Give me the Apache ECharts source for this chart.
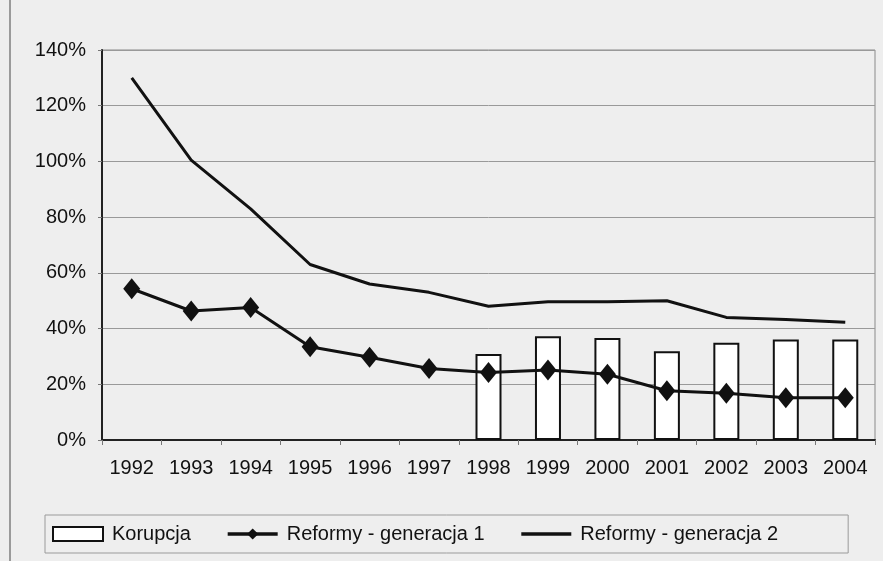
<!DOCTYPE html>
<html>
<head>
    <meta charset="UTF-8">
    <title>Korupcja i reformy</title>
    <script src="https://cdn.jsdelivr.net/npm/echarts/dist/echarts.min.js"></script>
    <style>
        body { margin: 0; background: #eeeeee; }
    </style>
</head>
<body>
    <div id="chart" style="width: 883px;height:561px;"></div>
    <script type="text/javascript">
        var myChart = echarts.init(document.getElementById('chart'));

        // data (percent)
        var years = ['1992', '1993', '1994', '1995', '1996', '1997', '1998', '1999', '2000', '2001', '2002', '2003', '2004'];
        var korupcja = [null, null, null, null, null, null, 30.9, 37.2, 36.6, 31.9, 34.9, 36.1, 36.1];
        var reformyGen1 = [54.3, 46.3, 47.6, 33.5, 29.7, 25.7, 24.2, 25.1, 23.6, 17.7, 16.8, 15.2, 15.2];
        var reformyGen2 = [130, 100.5, 83, 63, 56, 53, 48, 49.6, 49.6, 50, 44, 43.3, 42.3];

        var font = 'Liberation Sans';

        var option = {
            backgroundColor: '#eeeeee',
            textStyle: { fontFamily: font },
            grid: {
                left: 102,
                right: 8,
                top: 50,
                bottom: 121,
                show: true,
                borderColor: '#8a8a8a',
                borderWidth: 1
            },
            legend: {
                left: 45,
                top: 515,
                padding: [9, 70, 9, 7],
                borderColor: '#9a9a9a',
                borderWidth: 1,
                itemWidth: 50,
                itemHeight: 14,
                itemGap: 35,
                textStyle: { fontSize: 20, color: '#111', fontFamily: font, padding: [0, 0, 0, 4] },
                data: [
                    { name: 'Korupcja', icon: 'rect', itemStyle: { borderWidth: 2 } },
                    { name: 'Reformy - generacja 1', lineStyle: { width: 3.5 } },
                    { name: 'Reformy - generacja 2', lineStyle: { width: 3.5 }, itemStyle: { color: 'transparent', borderWidth: 0 } }
                ]
            },
            graphic: [
                {
                    type: 'line',
                    shape: { x1: 10, y1: 0, x2: 10, y2: 561 },
                    style: { stroke: '#9a9a9a', lineWidth: 2 }
                }
            ],
            xAxis: {
                type: 'category',
                data: years,
                boundaryGap: true,
                axisLine: { lineStyle: { color: '#222', width: 2 } },
                axisTick: { show: true, length: 5, lineStyle: { color: '#777' } },
                axisLabel: { color: '#111', fontSize: 20, margin: 18, fontFamily: font }
            },
            yAxis: {
                type: 'value',
                min: 0,
                max: 140,
                interval: 20,
                axisLine: { show: true, lineStyle: { color: '#222', width: 2 } },
                axisTick: { show: true, length: 4, lineStyle: { color: '#777' } },
                axisLabel: { color: '#111', fontSize: 20, margin: 16, formatter: '{value}%', fontFamily: font },
                splitLine: { lineStyle: { color: '#999', width: 1 } }
            },
            series: [
                {
                    name: 'Korupcja',
                    type: 'bar',
                    data: korupcja,
                    barWidth: 26,
                    itemStyle: { color: '#ffffff', borderColor: '#111', borderWidth: 2 }
                },
                {
                    name: 'Reformy - generacja 1',
                    type: 'line',
                    data: reformyGen1,
                    symbol: 'diamond',
                    symbolSize: [17, 21],
                    showAllSymbol: true,
                    lineStyle: { color: '#111', width: 3 },
                    itemStyle: { color: '#111' },
                    z: 3
                },
                {
                    name: 'Reformy - generacja 2',
                    type: 'line',
                    data: reformyGen2,
                    symbol: 'none',
                    lineStyle: { color: '#111', width: 3 },
                    itemStyle: { color: '#111' },
                    z: 3
                }
            ]
        };

        myChart.setOption(option);
    </script>
</body>
</html>
